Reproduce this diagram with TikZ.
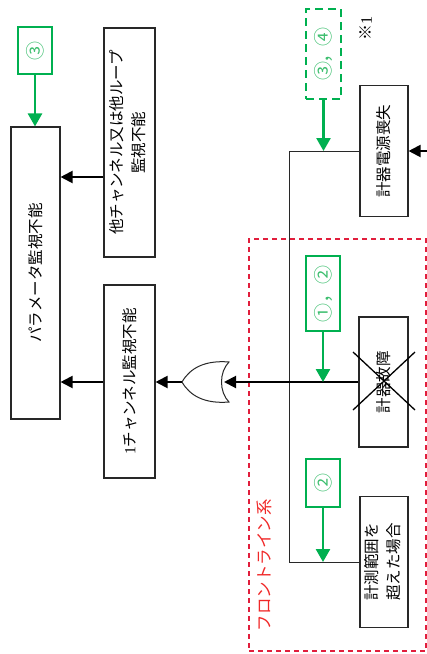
\documentclass[tikz,border=0pt]{standalone}
\usepackage{fontspec}
\setmainfont{Noto Sans CJK JP}
\newfontfamily\serdig{Liberation Serif}
\usetikzlibrary{arrows.meta}
\definecolor{gline}{RGB}{0,176,80}
\definecolor{gtext}{RGB}{60,190,110}
\definecolor{rline}{RGB}{225,30,60}
\definecolor{rtext}{RGB}{240,40,40}
\definecolor{bline}{RGB}{40,40,40}
\begin{document}
\begin{tikzpicture}[x=1pt,y=-1pt,
  box/.style={draw=bline, line width=1.1pt, inner sep=0pt, fill=white, font=\fontsize{15.5}{22}\selectfont},
  gbox/.style={draw=gline, line width=2.2pt, inner sep=0pt, text=gtext, font=\fontsize{19}{20}\selectfont},
  gdbox/.style={gbox, dash pattern=on 8pt off 5pt},
  redbox/.style={draw=rline, line width=1.5pt, dash pattern=on 5pt off 4pt, inner sep=0pt},
  arr/.style={draw=black, line width=2pt, -{Triangle[length=12pt,width=12pt]}},
  garr/.style={draw=gline, line width=2.5pt, -{Triangle[length=13pt,width=14pt]}},
  bus/.style={draw=bline, line width=1pt},
  gate/.style={draw=bline, line width=1pt, fill=white},
  cross/.style={draw=black, line width=1.3pt}
]
\useasboundingbox (0,0) rectangle (427,654);

% red dashed region
\node[redbox, minimum width=177pt, minimum height=412pt] (front) at (337.5,445) {};
\node[text=rtext, font=\fontsize{16.5}{18}\selectfont, inner sep=0pt] (lbl) at (264,565) {\rotatebox{90}{フロントライン系}};

% left boxes
\node[box, minimum width=49pt, minimum height=292pt] (P) at (35.5,273) {\rotatebox{90}{パラメータ監視不能}};
\node[box, minimum width=51pt, minimum height=229pt] (O) at (129.5,142.5) {\rotatebox{90}{\begin{tabular}{@{}c@{}}他チャンネル又は他ループ\\監視不能\end{tabular}}};
\node[box, minimum width=51pt, minimum height=193pt] (C1) at (129.5,381.5) {\rotatebox{90}{{\serdig 1}チャンネル監視不能}};
\node[gbox, minimum width=34pt, minimum height=47pt] (G3) at (35,50.5) {\rotatebox{90}{③}};

% right boxes
\node[box, minimum width=48pt, minimum height=131pt] (PW) at (384,151) {\rotatebox{90}{計器電源喪失}};
\node[box, minimum width=49pt, minimum height=130pt] (F) at (383.5,382) {\rotatebox{90}{計器故障}};
\node[box, minimum width=48pt, minimum height=131pt] (R) at (384,562) {\rotatebox{90}{\begin{tabular}{@{}c@{}}計測範囲を\\超えた場合\end{tabular}}};

\node[gdbox, minimum width=35pt, minimum height=90pt] (G34) at (323.5,54) {\rotatebox{90}{③\kern-2pt，\kern-2pt④}};
\node[gbox, minimum width=34pt, minimum height=75pt] (G12) at (323,293.5) {\rotatebox{90}{①，②}};
\node[gbox, minimum width=34pt, minimum height=48pt] (G2) at (323,483) {\rotatebox{90}{②}};

\node[font=\fontsize{16}{18}\selectfont, inner sep=0pt] (note) at (366,28) {\rotatebox{90}{※{\serdig 1}}};

% bus
\coordinate (bt) at (289,151);
\coordinate (bb) at (289,562);
\draw[bus] (PW.west) -- (bt) -- (bb) -- (R.west);

% OR gate
\coordinate (orin) at (224,382);
\coordinate (orout) at (182,382);
\draw[gate] (229,362) .. controls (205,360) and (190,368) .. (orout)
  .. controls (190,396) and (205,404) .. (229,402)
  .. controls (219,392) and (219,372) .. cycle;

% connectors
\draw[arr] (F.west) -- (orin);
\draw[arr] (orout) -- (C1.east |- orout);
\draw[arr] (C1.west |- orout) -- (P.east |- orout);
\coordinate (oa) at (104,177);
\draw[arr] (O.west |- oa) -- (P.east |- oa);
\coordinate (pin) at (430,151);
\draw[arr] (pin) -- (PW.east);

\draw[garr] (G3.south) -- (P.north -| G3.south);
\draw[garr] (G34.south) -- (G34.south |- bt);
\draw[garr] (G12.south) -- (G12.south |- F.west);
\draw[garr] (G2.south) -- (G2.south |- R.west);

% cross on failed instrument
\draw[cross] (353,352) -- (415,410);
\draw[cross] (353,410) -- (415,352);
\end{tikzpicture}
\end{document}
